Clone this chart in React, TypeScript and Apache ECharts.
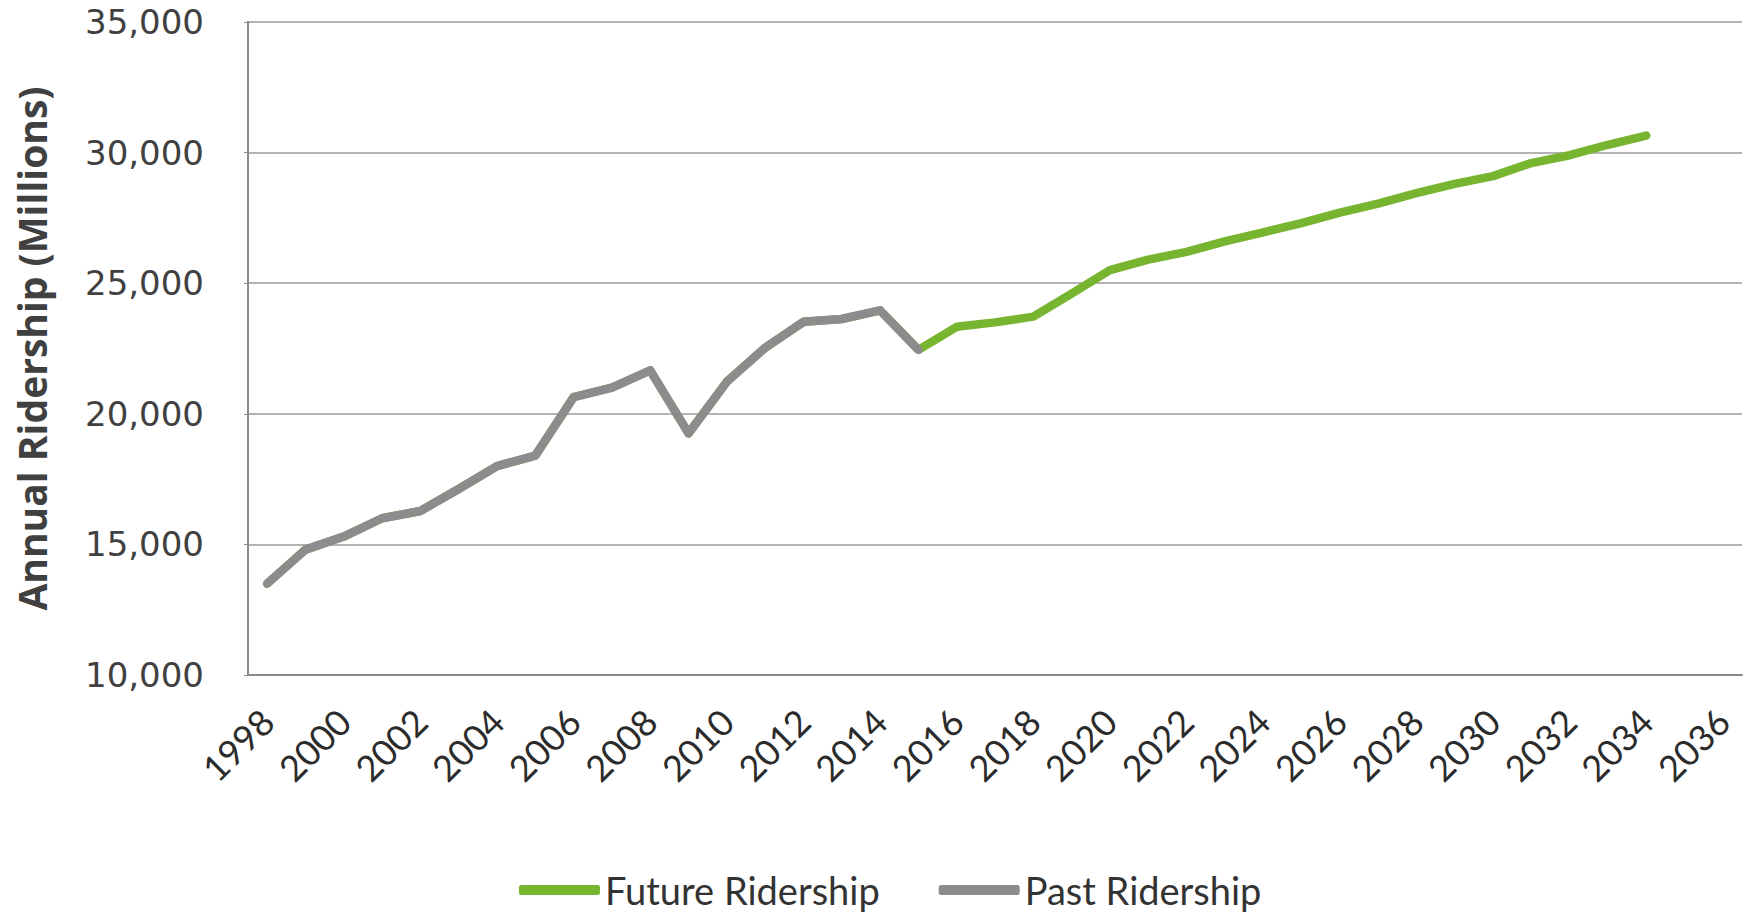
import React, { useEffect, useRef } from "react";
import * as echarts from "echarts";

const years = [
  "1998", "1999", "2000", "2001", "2002", "2003", "2004", "2005", "2006", "2007",
  "2008", "2009", "2010", "2011", "2012", "2013", "2014", "2015", "2016", "2017",
  "2018", "2019", "2020", "2021", "2022", "2023", "2024", "2025", "2026", "2027",
  "2028", "2029", "2030", "2031", "2032", "2033", "2034", "2035", "2036",
];

const pastRidership = [
  13500, 14800, 15300, 16000, 16280, 17120, 18000, 18400, 20640, 21000,
  21660, 19250, 21230, 22530, 23520, 23630, 23960, 22450,
];

const futureRidership = [
  13500, 14800, 15300, 16000, 16280, 17120, 18000, 18400, 20640, 21000,
  21660, 19250, 21230, 22530, 23520, 23630, 23960, 22450, 23330, 23500,
  23720, 24600, 25500, 25900, 26200, 26600, 26950, 27300, 27700, 28050,
  28450, 28800, 29100, 29600, 29900, 30300, 30650, null, null,
];

const yTicks = { min: 10000, max: 35000, interval: 5000 };

export default function App() {
  const ref = useRef<HTMLDivElement>(null);
  useEffect(() => {
    if (!ref.current) return;
    const chart = echarts.init(ref.current, undefined, { renderer: "svg" });
    chart.setOption({
      animation: false,
      backgroundColor: "#ffffff",
      grid: { left: 248, right: 2, top: 22, bottom: 242 },
      legend: {
        left: 514,
        top: 863,
        icon: "roundRect",
        itemWidth: 81,
        itemHeight: 10,
        itemGap: 59,
        textStyle: {
          fontFamily: "Lato",
          fontSize: 38,
          color: "#333333",
          lineHeight: 44,
        },
        data: ["Future Ridership", "Past Ridership"],
      },
      xAxis: {
        type: "category",
        data: years,
        boundaryGap: true,
        axisLine: { show: true, lineStyle: { color: "#8a8a8a", width: 2 } },
        axisTick: { show: false },
        axisLabel: {
          interval: 1,
          rotate: 45,
          margin: 40,
          fontFamily: "Lato",
          fontSize: 36,
          color: "#2b2b2b",
        },
      },
      yAxis: {
        type: "value",
        min: yTicks.min,
        max: yTicks.max,
        interval: yTicks.interval,
        name: "Annual Ridership (Millions)",
        nameLocation: "middle",
        nameGap: 197,
        nameTextStyle: {
          fontFamily: "Open Sans",
          fontWeight: "bold",
          fontSize: 39,
          color: "#404040",
        },
        axisLine: { show: true, lineStyle: { color: "#8a8a8a", width: 2 } },
        axisTick: { show: true, length: 4, lineStyle: { color: "#8a8a8a" } },
        axisLabel: {
          margin: 44,
          fontFamily: "DejaVu Sans",
          fontSize: 34,
          color: "#404040",
          formatter: (v: number) => v.toLocaleString("en-US"),
        },
        splitLine: { show: true, lineStyle: { color: "#9a9a9a", width: 1.5 } },
      },
      series: [
        {
          name: "Future Ridership",
          type: "line",
          data: futureRidership,
          showSymbol: false,
          symbol: "none",
          lineStyle: { color: "#77b530", width: 8.5, cap: "round", join: "round" },
          itemStyle: { color: "#77b530" },
        },
        {
          name: "Past Ridership",
          type: "line",
          data: pastRidership,
          showSymbol: false,
          symbol: "none",
          lineStyle: { color: "#8c8c8c", width: 8.5, cap: "round", join: "round" },
          itemStyle: { color: "#8c8c8c" },
        },
      ],
    });
    return () => chart.dispose();
  }, []);
  return (
    <div
      ref={ref}
      style={{ position: "fixed", left: 0, top: 0, width: 1744, height: 917 }}
    />
  );
}
